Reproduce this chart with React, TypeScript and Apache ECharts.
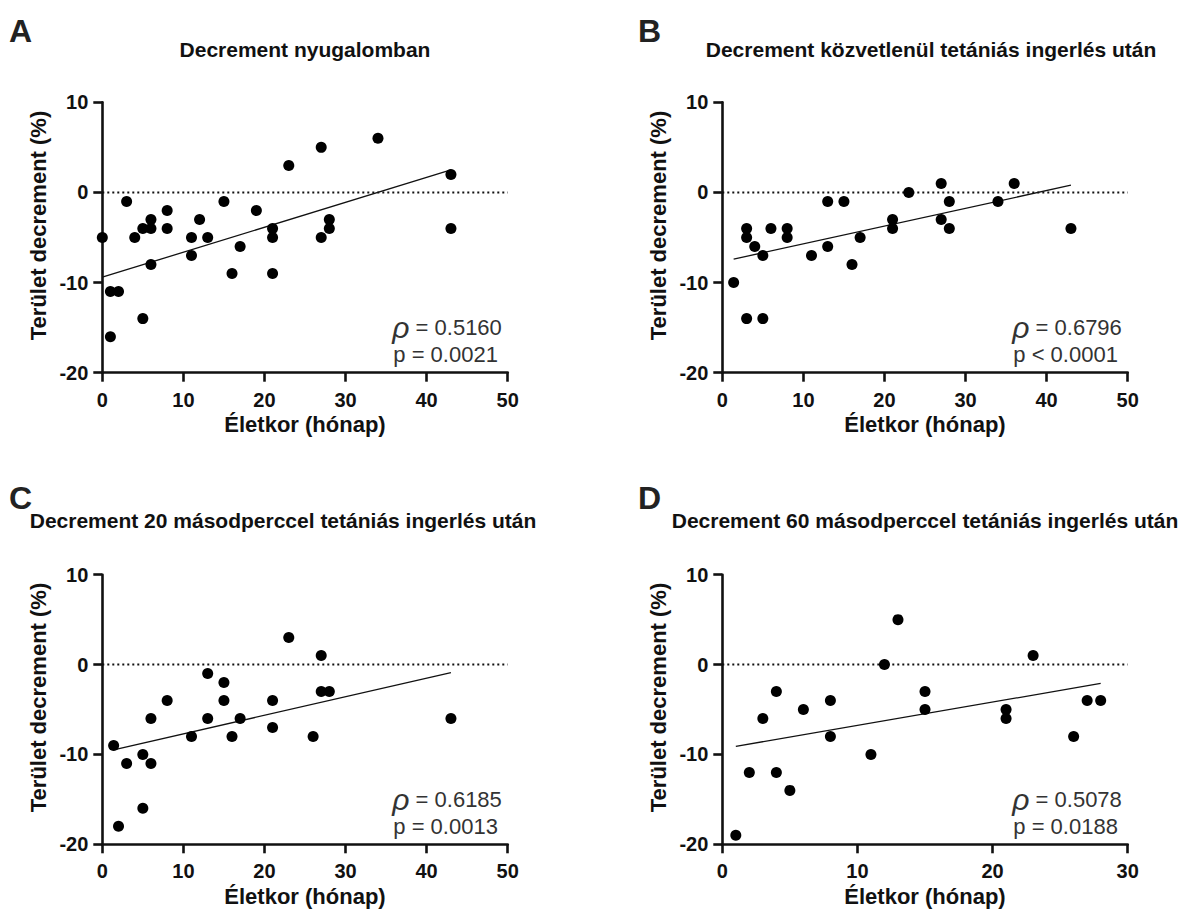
import React, { useEffect, useRef } from "react";
import * as echarts from "echarts";

// Panel A: Decrement nyugalomban
const agesA = [0, 1, 1, 2, 3, 4, 5, 5, 6, 6, 6, 8, 8, 11, 11, 12, 13, 15, 16, 17, 19, 21, 21, 21, 23, 27, 27, 28, 28, 34, 43, 43];
const decA = [-5, -16, -11, -11, -1, -5, -4, -14, -3, -4, -8, -2, -4, -5, -7, -3, -5, -1, -9, -6, -2, -4, -5, -9, 3, 5, -5, -3, -4, 6, 2, -4];
const fitA = [[0, -9.4], [43, 2.5]];

// Panel B: közvetlenül tetániás ingerlés után
const agesB = [1.4, 3, 3, 3, 4, 5, 5, 6, 8, 8, 11, 13, 13, 15, 16, 17, 21, 21, 23, 27, 27, 28, 28, 34, 36, 43];
const decB = [-10, -4, -5, -14, -6, -7, -14, -4, -4, -5, -7, -1, -6, -1, -8, -5, -3, -4, 0, 1, -3, -1, -4, -1, 1, -4];
const fitB = [[1.4, -7.4], [43, 0.8]];

// Panel C: 20 másodperccel tetániás ingerlés után
const agesC = [1.4, 2, 3, 5, 5, 6, 6, 8, 11, 13, 13, 15, 15, 16, 17, 21, 21, 23, 26, 27, 27, 28, 43];
const decC = [-9, -18, -11, -10, -16, -6, -11, -4, -8, -1, -6, -2, -4, -8, -6, -4, -7, 3, -8, 1, -3, -3, -6];
const fitC = [[1.8, -9.4], [43, -0.9]];

// Panel D: 60 másodperccel tetániás ingerlés után
const agesD = [1, 2, 3, 4, 4, 5, 6, 8, 8, 11, 12, 13, 15, 15, 21, 21, 23, 26, 27, 28];
const decD = [-19, -12, -6, -3, -12, -14, -5, -4, -8, -10, 0, 5, -3, -5, -5, -6, 1, -8, -4, -4];
const fitD = [[1, -9.1], [28, -2.1]];

const letters = ["A", "B", "C", "D"];
const titles = [
  "Decrement nyugalomban",
  "Decrement közvetlenül tetániás ingerlés után",
  "Decrement 20 másodperccel tetániás ingerlés után",
  "Decrement 60 másodperccel tetániás ingerlés után",
];
const rhoLabels = ["0.5160", "0.6796", "0.6185", "0.5078"];
const pLabels = ["p = 0.0021", "p < 0.0001", "p = 0.0013", "p = 0.0188"];
const xMaxes = [50, 50, 50, 30];
const yMin = -20;
const yMax = 10;
const xName = "Életkor (hónap)";
const yName = "Terület decrement (%)";

const FONT = "'Liberation Sans', Arial, Helvetica, sans-serif";
const INK = "#111111";

export default function App() {
  const ref = useRef<HTMLDivElement>(null);
  useEffect(() => {
    document.body.style.margin = "0";
    const chart = echarts.init(ref.current!, null, { renderer: "svg" });

    const ages = [agesA, agesB, agesC, agesD];
    const decs = [decA, decB, decC, decD];
    const fits = [fitA, fitB, fitC, fitD];

    const grids = [
      { left: 102.3, top: 102.3, width: 405.4, height: 270.4 },
      { left: 722.3, top: 102.3, width: 405.4, height: 270.4 },
      { left: 102.3, top: 574.7, width: 405.4, height: 269.6 },
      { left: 722.3, top: 574.7, width: 405.4, height: 269.6 },
    ];
    const titlePos = [
      [305, 49],
      [931, 49],
      [283, 520],
      [925, 520],
    ];
    const letterPos = [
      [9, 15],
      [638, 15],
      [9, 482],
      [638, 482],
    ];

    const axisLineStyle = { color: INK, width: 2.6 };
    const labelStyle = { fontFamily: FONT, fontWeight: "bold" as const, fontSize: 20, color: INK };

    const xAxis = grids.map((_, i) => ({
      type: "value",
      gridIndex: i,
      min: 0,
      max: xMaxes[i],
      interval: 10,
      axisLine: { show: true, onZero: false, lineStyle: axisLineStyle },
      axisTick: { show: true, length: 9, lineStyle: axisLineStyle },
      splitLine: { show: false },
      axisLabel: { ...labelStyle, margin: 17 },
      name: xName,
      nameLocation: "middle",
      nameGap: 41,
      nameTextStyle: { fontFamily: FONT, fontWeight: "bold", fontSize: 22, color: INK },
    }));
    const yAxis = grids.map((_, i) => ({
      type: "value",
      gridIndex: i,
      min: yMin,
      max: yMax,
      interval: 10,
      axisLine: { show: true, onZero: false, lineStyle: axisLineStyle },
      axisTick: { show: true, length: 9, lineStyle: axisLineStyle },
      splitLine: { show: false },
      axisLabel: { ...labelStyle, margin: 14 },
      name: yName,
      nameLocation: "middle",
      nameGap: 53,
      nameTextStyle: { fontFamily: FONT, fontWeight: "bold", fontSize: 22, color: INK, padding: [0, 0, 0, 24] },
    }));

    const series: any[] = [];
    grids.forEach((_, i) => {
      series.push({
        type: "line",
        xAxisIndex: i,
        yAxisIndex: i,
        data: [[0, 0], [xMaxes[i], 0]],
        symbol: "none",
        silent: true,
        lineStyle: { color: INK, width: 2, type: [2, 3] },
        z: 1,
      });
      series.push({
        type: "line",
        xAxisIndex: i,
        yAxisIndex: i,
        data: fits[i],
        symbol: "none",
        silent: true,
        lineStyle: { color: INK, width: 1.3 },
        z: 2,
      });
      series.push({
        type: "scatter",
        xAxisIndex: i,
        yAxisIndex: i,
        data: ages[i].map((a, k) => [a, decs[i][k]]),
        symbol: "circle",
        symbolSize: 11,
        clip: false,
        itemStyle: { color: "#000000", opacity: 1 },
        z: 3,
      });
    });

    const graphic: any[] = [];
    grids.forEach((g, i) => {
      graphic.push({
        type: "text",
        x: letterPos[i][0],
        y: letterPos[i][1],
        style: { text: letters[i], font: `bold 32px ${FONT}`, fill: "#222222" },
      });
      graphic.push({
        type: "text",
        x: titlePos[i][0],
        y: titlePos[i][1],
        style: {
          text: titles[i],
          font: `bold 21px ${FONT}`,
          fill: INK,
          textAlign: "center",
          textVerticalAlign: "middle",
        },
      });
      const bottom = g.top + g.height;
      graphic.push({
        type: "text",
        x: g.left + 290,
        y: bottom - 45,
        style: {
          text: `{r|ρ}{t| = ${rhoLabels[i]}}`,
          textVerticalAlign: "middle",
          rich: {
            r: { font: `italic 30px ${FONT}`, fill: "#333333", verticalAlign: "middle" },
            t: { font: `22px ${FONT}`, fill: "#333333", verticalAlign: "middle" },
          },
        },
      });
      graphic.push({
        type: "text",
        x: g.left + 291,
        y: bottom - 18,
        style: {
          text: pLabels[i],
          font: `22px ${FONT}`,
          fill: "#333333",
          textVerticalAlign: "middle",
        },
      });
    });

    chart.setOption({
      animation: false,
      backgroundColor: "#ffffff",
      textStyle: { fontFamily: FONT },
      grid: grids.map((g) => ({ ...g, containLabel: false })),
      xAxis,
      yAxis,
      series,
      graphic,
    });
    return () => chart.dispose();
  }, []);
  return <div ref={ref} style={{ width: 1190, height: 915 }} />;
}
